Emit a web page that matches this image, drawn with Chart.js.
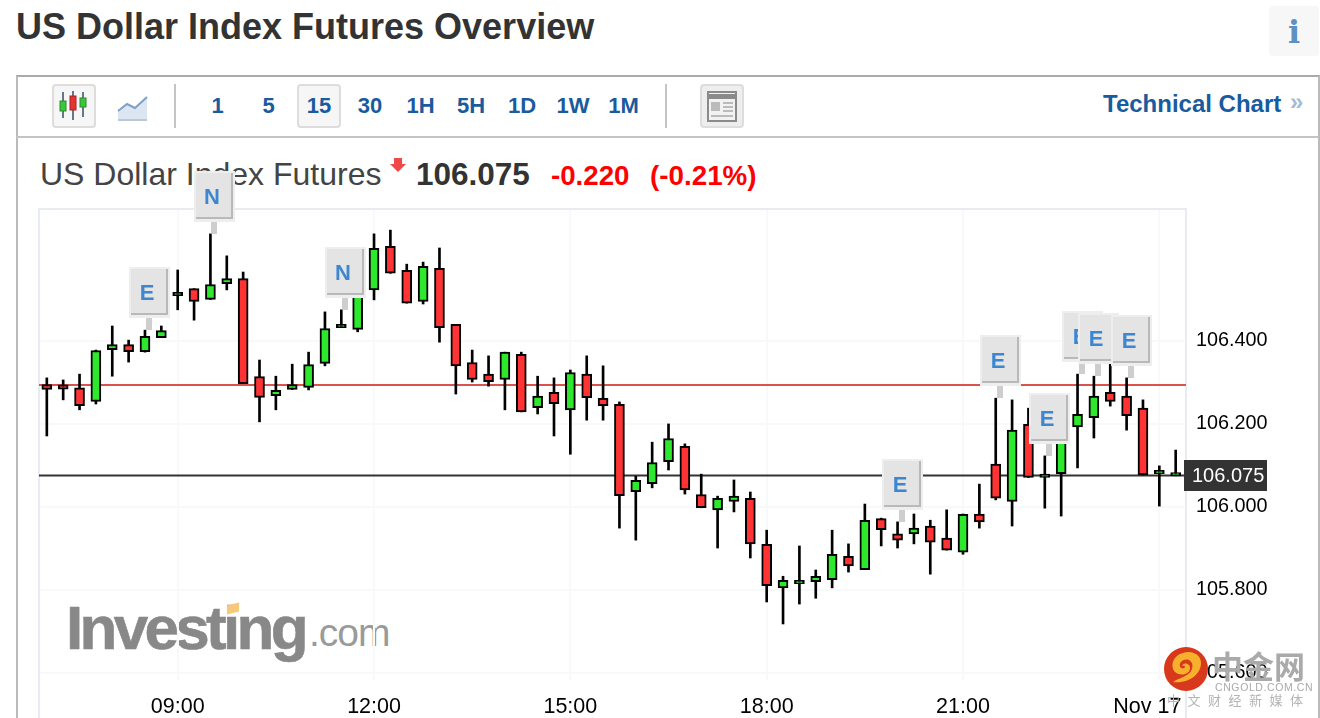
<!DOCTYPE html>
<html><head><meta charset="utf-8">
<script src="https://cdn.jsdelivr.net/npm/chart.js@4"></script>
<style>
html,body{margin:0;padding:0;background:#fff;width:1320px;height:718px;overflow:hidden;font-family:"Liberation Sans",Arial,sans-serif}
.a{position:absolute;white-space:nowrap}
#wrap{position:absolute;left:0;top:0;width:1320px;height:718px}
canvas{position:absolute;left:0;top:0}
.per{font-weight:bold;color:#1a5a9e;font-size:22px;line-height:24px;top:94px;text-align:center;width:40px}
.btn{background:#f6f6f6;border:2px solid #ddd;border-radius:4px;box-sizing:border-box}
</style></head><body>
<div id="wrap">
<div class="a" style="left:16px;top:7px;font-size:36px;line-height:40px;font-weight:bold;color:#333" id="pageTitle">US Dollar Index Futures Overview</div>
<div class="a" style="left:1269px;top:6px;width:50px;height:50px;background:#f7f7f7;border-radius:4px"></div>
<div class="a" style="left:1269px;top:12px;width:50px;text-align:center;font-family:'DejaVu Serif',serif;font-weight:bold;font-size:32px;line-height:40px;color:#5f90c4">i</div>
<div class="a" style="left:16px;top:75px;width:1300px;height:643px;border:solid #bbb;border-width:2px 2px 0 2px;border-top-color:#aaa;box-sizing:content-box"></div>
<div class="a" style="left:16px;top:136px;width:1302px;height:2px;background:#c4c4c4"></div>
<div class="a btn" style="left:52px;top:84px;width:44px;height:44px"></div>
<svg class="a" style="left:52px;top:84px" width="44" height="44">
<g stroke="#667788" stroke-width="2"><line x1="11" y1="8" x2="11" y2="34"/><line x1="21" y1="7" x2="21" y2="36"/><line x1="31" y1="8" x2="31" y2="33"/></g>
<rect x="8" y="17" width="6" height="10" fill="#3cc63c" stroke="#2a8a2a"/><rect x="18" y="12" width="6" height="14" fill="#e63333" stroke="#a82222"/><rect x="28" y="14" width="6" height="9" fill="#3cc63c" stroke="#2a8a2a"/></svg>
<svg class="a" style="left:116px;top:94px" width="34" height="28"><path d="M2 17 L11 10 L19 14 L31 3 L31 26 L2 26Z" fill="#dce6f3"/><path d="M2 17 L11 10 L19 14 L31 3" fill="none" stroke="#7f9fc6" stroke-width="2"/><line x1="2" y1="26" x2="31" y2="26" stroke="#bcc8d6" stroke-width="2"/></svg>
<div class="a" style="left:174px;top:84px;width:2px;height:44px;background:#c4c4c4"></div>
<div class="a btn" style="left:297px;top:84px;width:44px;height:44px"></div>
<div id="periods"></div>
<div class="a" style="left:665px;top:84px;width:2px;height:44px;background:#c4c4c4"></div>
<div class="a btn" style="left:700px;top:84px;width:44px;height:44px;background:#eee"></div>
<svg class="a" style="left:700px;top:84px" width="44" height="44"><rect x="8" y="8" width="28" height="29" fill="#f2f2f2" stroke="#8a8a8a" stroke-width="2"/><rect x="9" y="10" width="26" height="5" fill="#8a8a8a"/><rect x="11" y="18" width="9" height="9" fill="#bbb"/><g stroke="#bbb" stroke-width="2"><line x1="23" y1="19" x2="33" y2="19"/><line x1="23" y1="23" x2="33" y2="23"/><line x1="23" y1="27" x2="33" y2="27"/><line x1="11" y1="32" x2="33" y2="32"/></g></svg>
<div class="a" style="left:1103px;top:90px;font-size:24px;line-height:28px;font-weight:bold;color:#1a5a9e" id="techChart">Technical Chart</div>
<div class="a" style="left:1290px;top:88px;font-size:24px;line-height:28px;font-weight:bold;color:#a6bad2">»</div>
<div class="a" style="left:40px;top:156px;font-size:32px;line-height:36px;color:#444" id="sub1">US Dollar Index Futures</div>
<svg class="a" style="left:389px;top:157px" width="18" height="16"><path d="M5 1 H13 V7 H17 L9 15 L1 7 H5Z" fill="#f04848"/></svg>
<div class="a" style="left:416px;top:156px;font-size:31.5px;line-height:36px;font-weight:bold;color:#333" id="sub2">106.075</div>
<div class="a" style="left:551px;top:158px;font-size:27.7px;line-height:36px;font-weight:bold;color:#f00" id="sub3">-0.220</div>
<div class="a" style="left:650px;top:158px;font-size:27.8px;line-height:36px;font-weight:bold;color:#f00" id="sub4">(-0.21%)</div>
<div class="a" style="left:66px;top:590px;font-size:62px;line-height:76px;font-weight:bold;color:#888;letter-spacing:-3.7px;-webkit-text-stroke:.6px #888">Investing</div>
<div class="a" style="left:309px;top:609px;font-size:39px;line-height:48px;color:#9a9a9a;letter-spacing:-1px">.com</div>
<div class="a" style="left:227px;top:604px;width:12px;height:9px;background:#f8c87a;transform:skewY(-15deg)"></div>
<canvas id="c" width="1320" height="718"></canvas>
<svg class="a" style="left:1163px;top:646px" width="46" height="46" viewBox="0 0 46 46"><circle cx="23" cy="23" r="22" fill="#d8381c"/><path d="M10 36 C26 38 38 28 38 17 C38 8 28 4 20 7 C11 9 7 18 11 25 C16 31 27 29 27 22 C27 17 20 16 19 20 C24 19 22 24 18 22 C14 18 20 12 26 14 C32 17 30 27 22 30 C19 32 14 33 10 36Z" fill="#f7b02e"/></svg>
<div class="a" style="left:1212px;top:647px;font-family:'Noto Sans CJK SC';font-weight:bold;font-size:31px;line-height:36px;color:#aaa">中金网</div>
<div class="a" style="left:1215px;top:680px;font-size:10.5px;line-height:14px;color:#aaa;letter-spacing:.6px">CNGOLD.COM.CN</div>
<div class="a" style="left:1167px;top:691px;font-family:'Noto Sans CJK SC';font-size:13px;line-height:18px;color:#b4b4b4;letter-spacing:7.5px">中文财经新媒体</div>
</div>
<script>
// Candle data (15-minute bars, 07:00 onward)
const times = ["07:00","07:15","07:30","07:45","08:00","08:15","08:30","08:45","09:00","09:15","09:30","09:45","10:00","10:15","10:30","10:45","11:00","11:15","11:30","11:45","12:00","12:15","12:30","12:45","13:00","13:15","13:30","13:45","14:00","14:15","14:30","14:45","15:00","15:15","15:30","15:45","16:00","16:15","16:30","16:45","17:00","17:15","17:30","17:45","18:00","18:15","18:30","18:45","19:00","19:15","19:30","19:45","20:00","20:15","20:30","20:45","21:00","21:15","21:30","21:45","22:00","22:15","22:30","22:45","23:00","23:15","23:30","23:45","Nov 17","00:15"];
const opens = [106.294,106.293,106.286,106.253,106.378,106.390,106.373,106.407,106.508,106.525,106.499,106.537,106.549,106.313,106.267,106.282,106.287,106.345,106.431,106.427,106.522,106.627,106.569,106.494,106.574,106.439,106.347,106.319,106.306,106.367,106.238,106.275,106.233,106.319,106.261,106.246,106.036,106.055,106.108,106.145,106.029,105.992,106.012,106.020,105.909,105.804,105.814,105.819,105.824,105.880,105.848,105.971,105.934,105.934,105.953,105.924,105.890,105.982,106.102,106.012,106.198,106.070,106.079,106.192,106.214,106.275,106.266,106.237,106.079,106.074];
const closes = [106.282,106.283,106.243,106.376,106.390,106.373,106.410,106.424,106.516,106.494,106.535,106.549,106.296,106.263,106.280,106.294,106.342,106.429,106.439,106.526,106.622,106.562,106.490,106.579,106.431,106.339,106.306,106.301,106.372,106.228,106.266,106.248,106.323,106.262,106.243,106.026,106.063,106.106,106.164,106.040,105.997,106.020,106.025,105.910,105.809,105.822,105.822,105.832,105.885,105.857,105.967,105.944,105.919,105.948,105.914,105.895,105.981,105.963,106.020,106.184,106.070,106.078,106.188,106.222,106.266,106.253,106.219,106.076,106.087,106.082];
const highs = [106.310,106.305,106.319,106.377,106.435,106.401,106.425,106.435,106.570,106.525,106.657,106.604,106.565,106.353,106.314,106.343,106.372,106.469,106.474,106.527,106.657,106.666,106.584,106.589,106.623,106.439,106.377,106.363,106.372,106.372,106.314,106.310,106.329,106.363,106.339,106.252,106.073,106.155,106.199,106.151,106.078,106.025,106.064,106.035,105.943,105.832,105.905,105.847,105.943,105.910,106.006,105.972,105.963,105.982,105.967,105.992,105.982,106.054,106.261,106.257,106.237,106.122,106.189,106.319,106.314,106.343,106.310,106.257,106.098,106.136];
const lows = [106.170,106.257,106.233,106.247,106.314,106.348,106.372,106.407,106.474,106.449,106.499,106.522,106.296,106.204,106.233,106.282,106.281,106.339,106.431,106.421,106.498,106.562,106.490,106.488,106.396,106.271,106.300,106.290,106.233,106.228,106.223,106.170,106.126,106.208,106.208,105.948,105.919,106.045,106.088,106.030,105.997,105.900,105.987,105.876,105.770,105.717,105.765,105.779,105.804,105.842,105.848,105.905,105.900,105.910,105.837,105.895,105.885,105.948,106.016,105.953,106.070,105.996,105.977,106.093,106.165,106.242,106.184,106.076,106.001,106.074];
const yTicks = [106.4,106.2,106.0,105.8,105.6];
const tickHours = [8,20,32,44,56,68];
const lastPrice = 106.075;
const prevClose = 106.293;
const eventIndex = [6,10,18,52,58,61,63,64,66];
const eventLetter = ["E","N","N","E","E","E","E","E","E"];

const periods = ["1","5","15","30","1H","5H","1D","1W","1M"];
const periodX = [217.5,268.5,319,370,420.5,471,522,573,623.5];
const host = document.getElementById('periods');
periods.forEach((p,i)=>{const d=document.createElement('div');d.className='a per';d.style.left=(periodX[i]-20)+'px';d.textContent=p;host.appendChild(d);});

const UP='#2de82d', DOWN='#ff3333';
const idx = times.map((_,i)=>i);

const frame = {
  id:'frame',
  beforeDatasetsDraw(ch){
    const {ctx,chartArea:a}=ch;
    ctx.save();ctx.strokeStyle='#e8ecf1';ctx.lineWidth=2;
    ctx.beginPath();
    ctx.moveTo(a.left,718);ctx.lineTo(a.left,a.top);ctx.lineTo(a.right,a.top);ctx.lineTo(a.right,718);
    ctx.stroke();ctx.restore();
  }
};
const flags = {
  id:'flags',
  afterDatasetsDraw(ch){
    const {ctx,scales:{x,y}}=ch;
    ctx.save();
    const order=[0,1,2,3,4,6,7,8,5];
    order.forEach(k=>{
      const i=eventIndex[k], cx=Math.round(x.getPixelForValue(i)), hy=Math.round(y.getPixelForValue(highs[i]));
      const L=cx-16,T=hy-63,W=41,H=51;
      ctx.fillStyle='rgba(190,190,190,.75)';ctx.fillRect(cx+1,hy-13,6,13);
      ctx.fillStyle='#eeeeee';ctx.fillRect(L,T,W,H);
      ctx.fillStyle='#b9b9b9';ctx.fillRect(L+2,T+2,37,46);
      ctx.fillStyle='#e4e4e4';ctx.fillRect(L+2,T+2,35,44);
      ctx.fillStyle='#3d87d1';ctx.font='bold 22px "Liberation Sans",Arial,sans-serif';
      ctx.textAlign='center';ctx.textBaseline='middle';
      ctx.fillText(eventLetter[k],L+18,T+27);
    });
    // last-price tag
    const py=y.getPixelForValue(lastPrice);
    ctx.fillStyle='#333';ctx.fillRect(1184,Math.round(py)-15,83,31);
    ctx.fillStyle='#fff';ctx.font='20px "Liberation Sans",Arial,sans-serif';
    ctx.textAlign='left';ctx.textBaseline='middle';
    ctx.fillText(lastPrice.toFixed(3),1192,py+1);
    ctx.restore();
  }
};

new Chart(document.getElementById('c'),{
  type:'bar',
  data:{datasets:[
    {type:'line',label:'Previous close',data:[{x:-0.478,y:prevClose},{x:69.63,y:prevClose}],borderColor:'#d9534f',borderWidth:2,pointRadius:0,order:4},
    {type:'line',label:'Last',data:[{x:-0.478,y:lastPrice},{x:69.63,y:lastPrice}],borderColor:'#333',borderWidth:2,pointRadius:0,order:3},
    {label:'Range',data:idx.map(i=>({x:i,y:[lows[i],highs[i]]})),backgroundColor:'#000',barThickness:2,grouped:false,order:2},
    {label:'Body',data:idx.map(i=>({x:i,y:[opens[i],closes[i]]})),
     backgroundColor:idx.map(i=>closes[i]>=opens[i]?UP:DOWN),borderColor:'#000',borderWidth:2,borderSkipped:false,barThickness:10,grouped:false,order:1}
  ]},
  options:{
    responsive:false,animation:false,
    layout:{padding:{left:39,top:209,right:0,bottom:0}},
    plugins:{legend:{display:false},tooltip:{enabled:false}},
    scales:{
      x:{type:'linear',offset:false,min:-0.478,max:69.63,
         afterBuildTicks(s){s.ticks=tickHours.map(v=>({value:v}));},
         afterFit(s){s.height=38;},
         ticks:{autoSkip:false,maxRotation:0,padding:14,color:'#000',font:{size:21.5,family:'"Liberation Sans",Arial,sans-serif'},
           callback:(v)=>v===68?times[v]+'    ':times[v]},
         grid:{color:'#f8f9fa',lineWidth:2,drawTicks:false,offset:false},border:{display:false}},
      y:{position:'right',min:105.582,max:106.7169,
         afterBuildTicks(s){s.ticks=yTicks.map(v=>({value:v}));},
         afterFit(s){s.width=134;},
         ticks:{padding:10,color:'#000',font:{size:19.8,family:'"Liberation Sans",Arial,sans-serif'},callback:v=>v.toFixed(3)},
         grid:{color:'#f8f9fa',lineWidth:2,drawTicks:false},border:{display:false}}
    }
  },
  plugins:[frame,flags]
});
</script>
</body></html>
